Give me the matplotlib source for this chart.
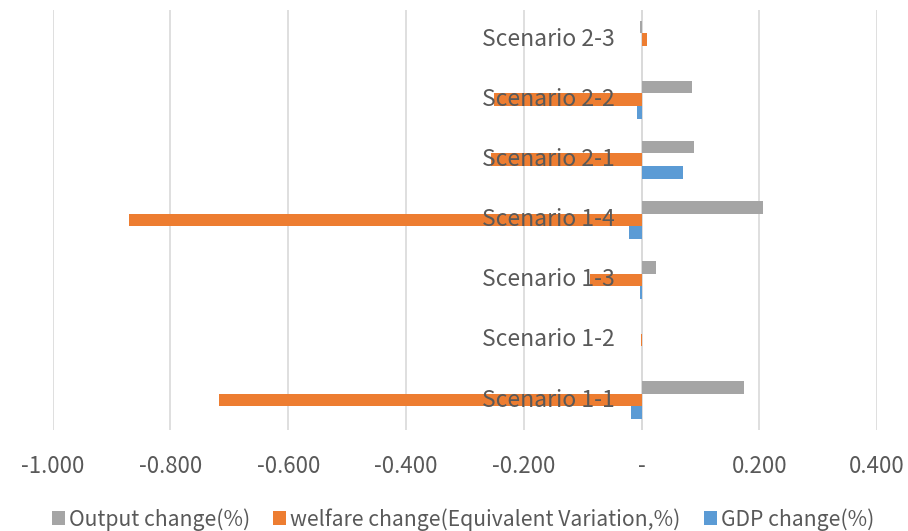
import numpy as np
import matplotlib.pyplot as plt

plt.rcParams['font.family'] = ['Noto Sans CJK KR', 'DejaVu Sans']

scenarios = ["Scenario 1-1", "Scenario 1-2", "Scenario 1-3", "Scenario 1-4",
             "Scenario 2-1", "Scenario 2-2", "Scenario 2-3"]
output_change = [0.174, 0.0, 0.024, 0.206, 0.089, 0.086, -0.003]
welfare_change = [-0.718, -0.001, -0.087, -0.871, -0.255, -0.250, 0.010]
gdp_change = [-0.018, 0.0, -0.002, -0.021, 0.070, -0.007, 0.0]
xticks = [-1.0, -0.8, -0.6, -0.4, -0.2, 0.0, 0.2, 0.4]

text_col = "#595959"
fig = plt.figure(figsize=(9.08, 5.31), dpi=100)
ax = fig.add_axes([0.058, 0.19, 0.908, 0.792])

y = np.arange(len(scenarios))
h = 0.21
ax.barh(y + h, output_change, height=h, color="#A5A5A5", label="Output change(%)", zorder=2)
ax.barh(y, welfare_change, height=h, color="#ED7D31",
        label="welfare change(Equivalent Variation,%)", zorder=2)
ax.barh(y - h, gdp_change, height=h, color="#5B9BD5", label="GDP change(%)", zorder=2)

ax.set_xlim(-1.0, 0.4)
ax.set_ylim(-0.5, len(scenarios) - 0.5)
ax.set_xticks(xticks)
ax.set_xticklabels(["-" if v == 0 else f"{v:.3f}" for v in xticks])
ax.grid(axis='x', color="#D9D9D9", linewidth=1.2, zorder=0)
ax.axvline(0, color="#D9D9D9", linewidth=1.2, zorder=1)
ax.tick_params(axis='x', length=0, pad=18, labelsize=16, labelcolor=text_col)
ax.set_yticks([])
for s in ax.spines.values():
    s.set_visible(False)

for yi, name in zip(y, scenarios):
    ax.annotate(name, xy=(0, yi), xytext=(-19, 0), textcoords='offset points',
                ha='right', va='center', fontsize=16.5, color=text_col, zorder=5)

leg = fig.legend(loc='lower center', bbox_to_anchor=(0.51, -0.035), ncol=3, frameon=False,
                 fontsize=15.2, handlelength=0.6, handleheight=0.6, handletextpad=0.2,
                 columnspacing=1.1)
for t in leg.get_texts():
    t.set_color(text_col)

fig.savefig("out.png", dpi=100)
